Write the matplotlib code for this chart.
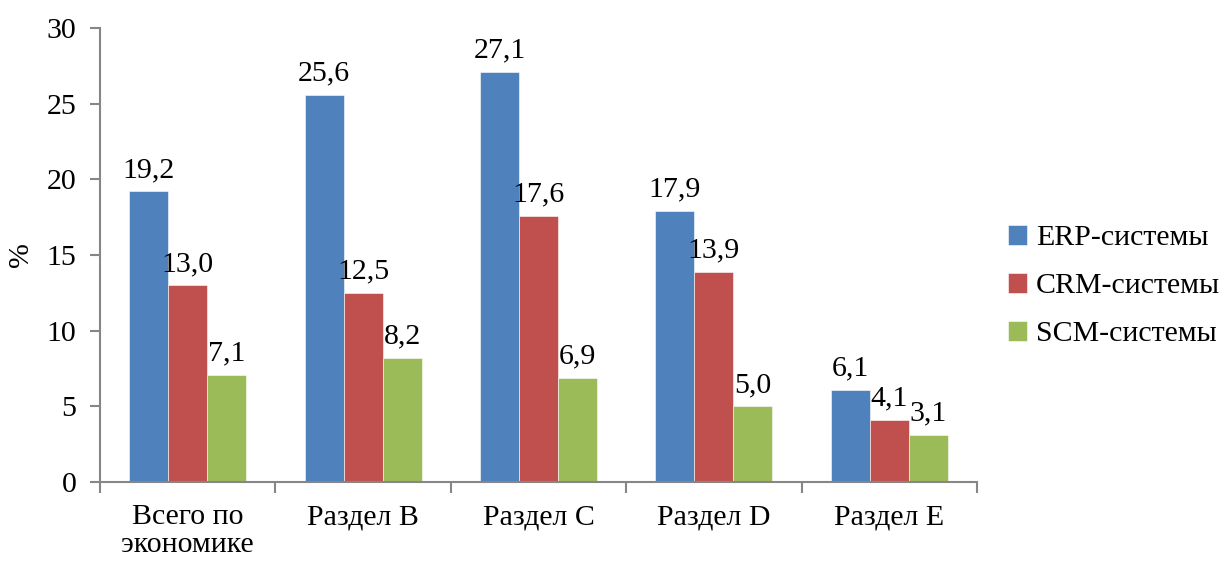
import numpy as np
import matplotlib.pyplot as plt

plt.rcParams['font.family'] = ['Liberation Serif', 'DejaVu Serif']

categories = ["Всего по\nэкономике", "Раздел B", "Раздел C", "Раздел D", "Раздел E"]
erp = [19.2, 25.6, 27.1, 17.9, 6.1]
crm = [13.0, 12.5, 17.6, 13.9, 4.1]
scm = [7.1, 8.2, 6.9, 5.0, 3.1]
series_names = ["ERP-системы", "CRM-системы", "SCM-системы"]
colors = ["#4F81BD", "#C0504D", "#9BBB59"]
yticks = [0, 5, 10, 15, 20, 25, 30]

fig = plt.figure(figsize=(12.24, 5.63), dpi=100)
ax_w = (977 - 100) / 1224
ax = fig.add_axes([100 / 1224, 1 - 482 / 563, ax_w, (482 - 28) / 563])

x = np.arange(len(categories))
width = 0.222
fs = 21.5
spine_color = "#868686"

for i, (vals, name, col) in enumerate(zip([erp, crm, scm], series_names, colors)):
    pos = x + (i - 1) * width
    bars = ax.bar(pos, vals, width, color=col, label=name, edgecolor="white", linewidth=0.4)
    for b, v in zip(bars, vals):
        ax.annotate(f"{v:.1f}".replace(".", ","),
                    (b.get_x() + b.get_width() / 2, v),
                    xytext=(0, 6), textcoords="offset points",
                    ha="center", va="bottom", fontsize=fs)

ax.set_xlim(-0.5, len(categories) - 0.5)
ax.set_ylim(0, 30)
ax.set_yticks(yticks)
ax.set_yticklabels([str(t) for t in yticks], fontsize=fs)
ax.set_xticks(np.arange(len(categories) + 1) - 0.5)
ax.set_xticklabels([])
ax.set_xticks(x, minor=True)
ax.set_xticklabels(categories, minor=True, fontsize=fs, linespacing=1.1, va="top")
ax.tick_params(axis="x", which="minor", length=0, pad=16)
ax.tick_params(axis="x", which="major", length=8, width=1.5, color=spine_color, direction="out")
ax.tick_params(axis="y", length=7, width=1.5, color=spine_color, direction="out", pad=10)
for s in ["top", "right"]:
    ax.spines[s].set_visible(False)
for s in ["left", "bottom"]:
    ax.spines[s].set_color(spine_color)
    ax.spines[s].set_linewidth(1.5)

# y-axis title placed in figure pixels so it stays inside the canvas
fig.text(21 / 1224, 1 - 255 / 563, "%", rotation=90, ha="center", va="center", fontsize=fs)

ax.legend(loc="center left", bbox_to_anchor=(1.035, 0.432), frameon=False, fontsize=fs,
          handlelength=0.65, handleheight=0.65, handletextpad=0.3, labelspacing=0.72,
          borderpad=0, borderaxespad=0)

fig.savefig("out.png", dpi=100)
